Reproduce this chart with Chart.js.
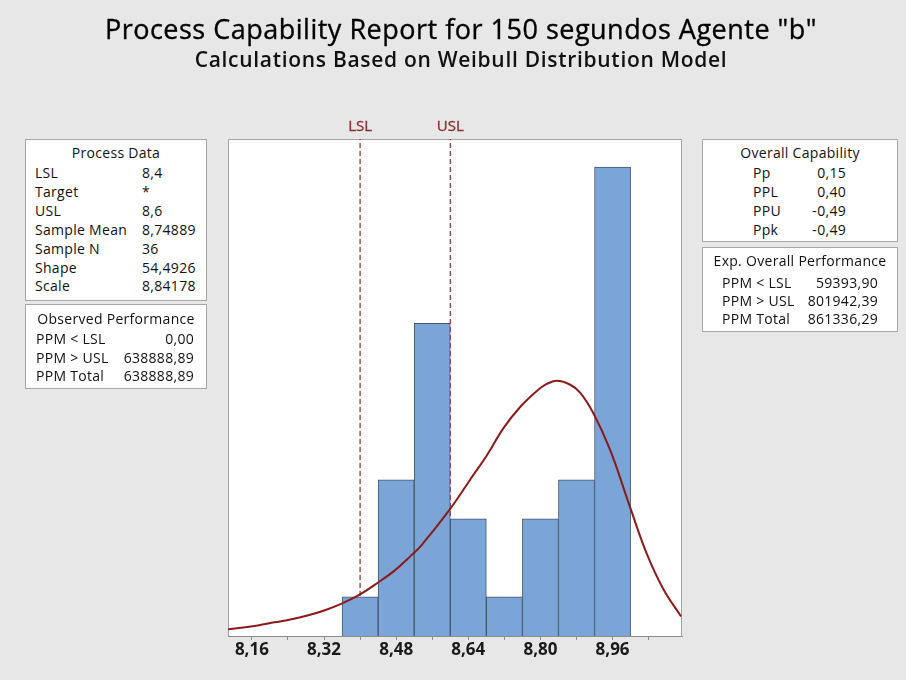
<!DOCTYPE html>
<html>
<head>
<meta charset="utf-8">
<script src="https://cdn.jsdelivr.net/npm/chart.js@4/dist/chart.umd.min.js"></script>
<style>
  html, body { margin: 0; padding: 0; background: #e7e7e7; }
  #wrap { position: relative; width: 906px; height: 680px; background: #e7e7e7; overflow: hidden;
          font-family: "Open Sans", "Noto Sans", sans-serif; color: #111; }
  #plot { position: absolute; left: 0; top: 0; }
  .title { position: absolute; left: 8px; width: 906px; text-align: center; white-space: nowrap; color: #000; }
  #t1 { top: 10px; font-size: 27px; line-height: 38px; font-weight: 400; letter-spacing: 0.5px;
        -webkit-text-stroke: 0.35px #000; }
  #t2 { top: 45px; font-size: 21px; line-height: 28px; font-weight: 600; letter-spacing: 0.7px; color: #111; }
  .box { position: absolute; background: #fff; border: 1px solid #a9a9a9; box-sizing: border-box;
         font-size: 14px; letter-spacing: 0.3px; }
  .box div { position: absolute; white-space: nowrap; line-height: 18px; }
  .hdr { left: 0; right: 0; text-align: center; }
</style>
</head>
<body>
<div id="wrap">
  <canvas id="plot" width="906" height="680"></canvas>
  <div class="title" id="t1">Process Capability Report for 150 segundos Agente "b"</div>
  <div class="title" id="t2">Calculations Based on Weibull Distribution Model</div>
</div>
<script>
// Histogram bins (midpoints) and counts
const binCenters = [8.40, 8.48, 8.56, 8.64, 8.72, 8.80, 8.88, 8.96];
const binCounts  = [1, 4, 8, 3, 1, 3, 4, 12];

// Fitted Weibull curve, scaled to counts
const fitX = [8.107, 8.173, 8.210, 8.248, 8.285, 8.322, 8.359, 8.396, 8.440, 8.477, 8.514, 8.536, 8.599,
              8.644, 8.681, 8.718, 8.755, 8.792, 8.814, 8.836, 8.866, 8.888, 8.918, 8.955, 8.999, 9.036,
              9.073, 9.112];
const fitY = [0.17, 0.27, 0.35, 0.43, 0.53, 0.66, 0.83, 1.04, 1.37, 1.68, 2.07, 2.32, 3.24,
              4.00, 4.62, 5.32, 5.86, 6.27, 6.45, 6.53, 6.43, 6.23, 5.69, 4.75, 3.29, 2.10,
              1.19, 0.50];

// Specification limits
const LSL = 8.4;
const USL = 8.6;

// Axis ticks
const tickValues = [8.16, 8.24, 8.32, 8.40, 8.48, 8.56, 8.64, 8.72, 8.80, 8.88, 8.96, 9.04];
const tickLabels = ['8,16', '', '8,32', '', '8,48', '', '8,64', '', '8,80', '', '8,96', ''];
const xMin = 8.107, xMax = 9.114, yMax = 12.72;

// Side tables
const processLabels = ['LSL', 'Target', 'USL', 'Sample Mean', 'Sample N', 'Shape', 'Scale'];
const processValues = ['8,4', '*', '8,6', '8,74889', '36', '54,4926', '8,84178'];
const observedLabels = ['PPM < LSL', 'PPM > USL', 'PPM Total'];
const observedValues = ['0,00', '638888,89', '638888,89'];
const capLabels = ['Pp', 'PPL', 'PPU', 'Ppk'];
const capValues = ['0,15', '0,40', '-0,49', '-0,49'];
const expLabels = ['PPM < LSL', 'PPM > USL', 'PPM Total'];
const expValues = ['59393,90', '801942,39', '861336,29'];

function makeBox(cfg) {
  const box = document.createElement('div');
  box.className = 'box';
  Object.assign(box.style, { left: cfg.left + 'px', top: cfg.top + 'px', width: cfg.width + 'px', height: cfg.height + 'px' });
  const h = document.createElement('div');
  h.className = 'hdr';
  h.textContent = cfg.header;
  h.style.top = (cfg.headerY - 9) + 'px';
  box.appendChild(h);
  cfg.labels.forEach((lab, i) => {
    const y = cfg.rowY + i * cfg.rowStep - 9;
    const l = document.createElement('div');
    l.textContent = lab;
    l.style.left = cfg.labelX + 'px';
    l.style.top = y + 'px';
    box.appendChild(l);
    const v = document.createElement('div');
    v.textContent = cfg.values[i];
    v.style.top = y + 'px';
    if (cfg.valueAlign === 'left') v.style.left = cfg.valueX + 'px';
    else v.style.right = (cfg.width - cfg.valueX) + 'px';
    box.appendChild(v);
  });
  document.getElementById('wrap').appendChild(box);
}

makeBox({ left: 25, top: 139, width: 182, height: 162, header: 'Process Data',
          headerY: 13, rowY: 33, rowStep: 18.9, labelX: 9, valueX: 116, valueAlign: 'left',
          labels: processLabels, values: processValues });
makeBox({ left: 25, top: 304, width: 182, height: 85, header: 'Observed Performance',
          headerY: 14, rowY: 34, rowStep: 18.7, labelX: 10, valueX: 170, valueAlign: 'right',
          labels: observedLabels, values: observedValues });
makeBox({ left: 702, top: 139, width: 196, height: 103, header: 'Overall Capability',
          headerY: 13, rowY: 33, rowStep: 19, labelX: 50, valueX: 145, valueAlign: 'right',
          labels: capLabels, values: capValues });
makeBox({ left: 702, top: 247, width: 196, height: 85, header: 'Exp. Overall Performance',
          headerY: 13, rowY: 34.5, rowStep: 18.3, labelX: 19, valueX: 177, valueAlign: 'right',
          labels: expLabels, values: expValues });

// White plotting area with a thin frame, plus the spec-limit captions
const frame = {
  id: 'frame',
  beforeDraw(chart) {
    const { ctx, chartArea: a } = chart;
    ctx.save();
    ctx.fillStyle = '#ffffff';
    ctx.fillRect(a.left, a.top, a.right - a.left, a.bottom - a.top);
    ctx.strokeStyle = '#a3a3a3';
    ctx.lineWidth = 1;
    ctx.strokeRect(a.left + 0.5, a.top + 0.5, a.right - a.left - 1, a.bottom - a.top);
    ctx.restore();
  },
  afterDraw(chart) {
    const { ctx, chartArea: a, scales } = chart;
    ctx.save();
    ctx.font = '15px "Open Sans", sans-serif';
    ctx.fillStyle = '#8e2b2b';
    ctx.strokeStyle = '#8e2b2b';
    ctx.lineWidth = 0.3;
    ctx.textAlign = 'center';
    ctx.textBaseline = 'middle';
    [['LSL', LSL], ['USL', USL]].forEach(([txt, v]) => {
      const px = scales.x.getPixelForValue(v);
      ctx.fillText(txt, px, a.top - 12);
      ctx.strokeText(txt, px, a.top - 12);
    });
    ctx.restore();
  }
};

const specLine = (v) => ({
  type: 'line',
  data: [{ x: v, y: 0 }, { x: v, y: yMax }],
  borderColor: '#8e2b2b',
  borderWidth: 1.2,
  borderDash: [5, 3],
  pointRadius: 0,
  order: 3
});

new Chart(document.getElementById('plot'), {
  type: 'bar',
  data: {
    datasets: [
      {
        type: 'line',
        data: fitX.map((x, i) => ({ x, y: fitY[i] })),
        borderColor: '#8b1a1a',
        borderWidth: 2,
        pointRadius: 0,
        tension: 0.4,
        order: 1
      },
      {
        type: 'bar',
        data: binCenters.map((x, i) => ({ x, y: binCounts[i] })),
        backgroundColor: '#7ba4d7',
        borderColor: '#44576e',
        borderWidth: 1,
        barPercentage: 1,
        categoryPercentage: 1,
        order: 2
      },
      specLine(LSL),
      specLine(USL)
    ]
  },
  options: {
    responsive: false,
    animation: false,
    events: [],
    layout: { padding: { left: 228, right: 224, top: 139, bottom: 19.6 } },
    plugins: { legend: { display: false }, tooltip: { enabled: false }, title: { display: false } },
    scales: {
      x: {
        type: 'linear',
        offset: false,
        min: xMin,
        max: xMax,
        afterBuildTicks: (s) => { s.ticks = tickValues.map(v => ({ value: v })); },
        ticks: {
          autoSkip: false,
          maxRotation: 0,
          padding: 0,
          color: '#1a1a1a',
          font: { family: '"Open Sans", sans-serif', size: 17, weight: 'bold' },
          callback: (v, i) => tickLabels[i]
        },
        grid: { offset: false, drawOnChartArea: false, tickLength: 4, color: '#8c8c8c' },
        border: { color: '#8c8c8c' }
      },
      y: { display: false, min: 0, max: yMax }
    }
  },
  plugins: [frame]
});
</script>
</body>
</html>
